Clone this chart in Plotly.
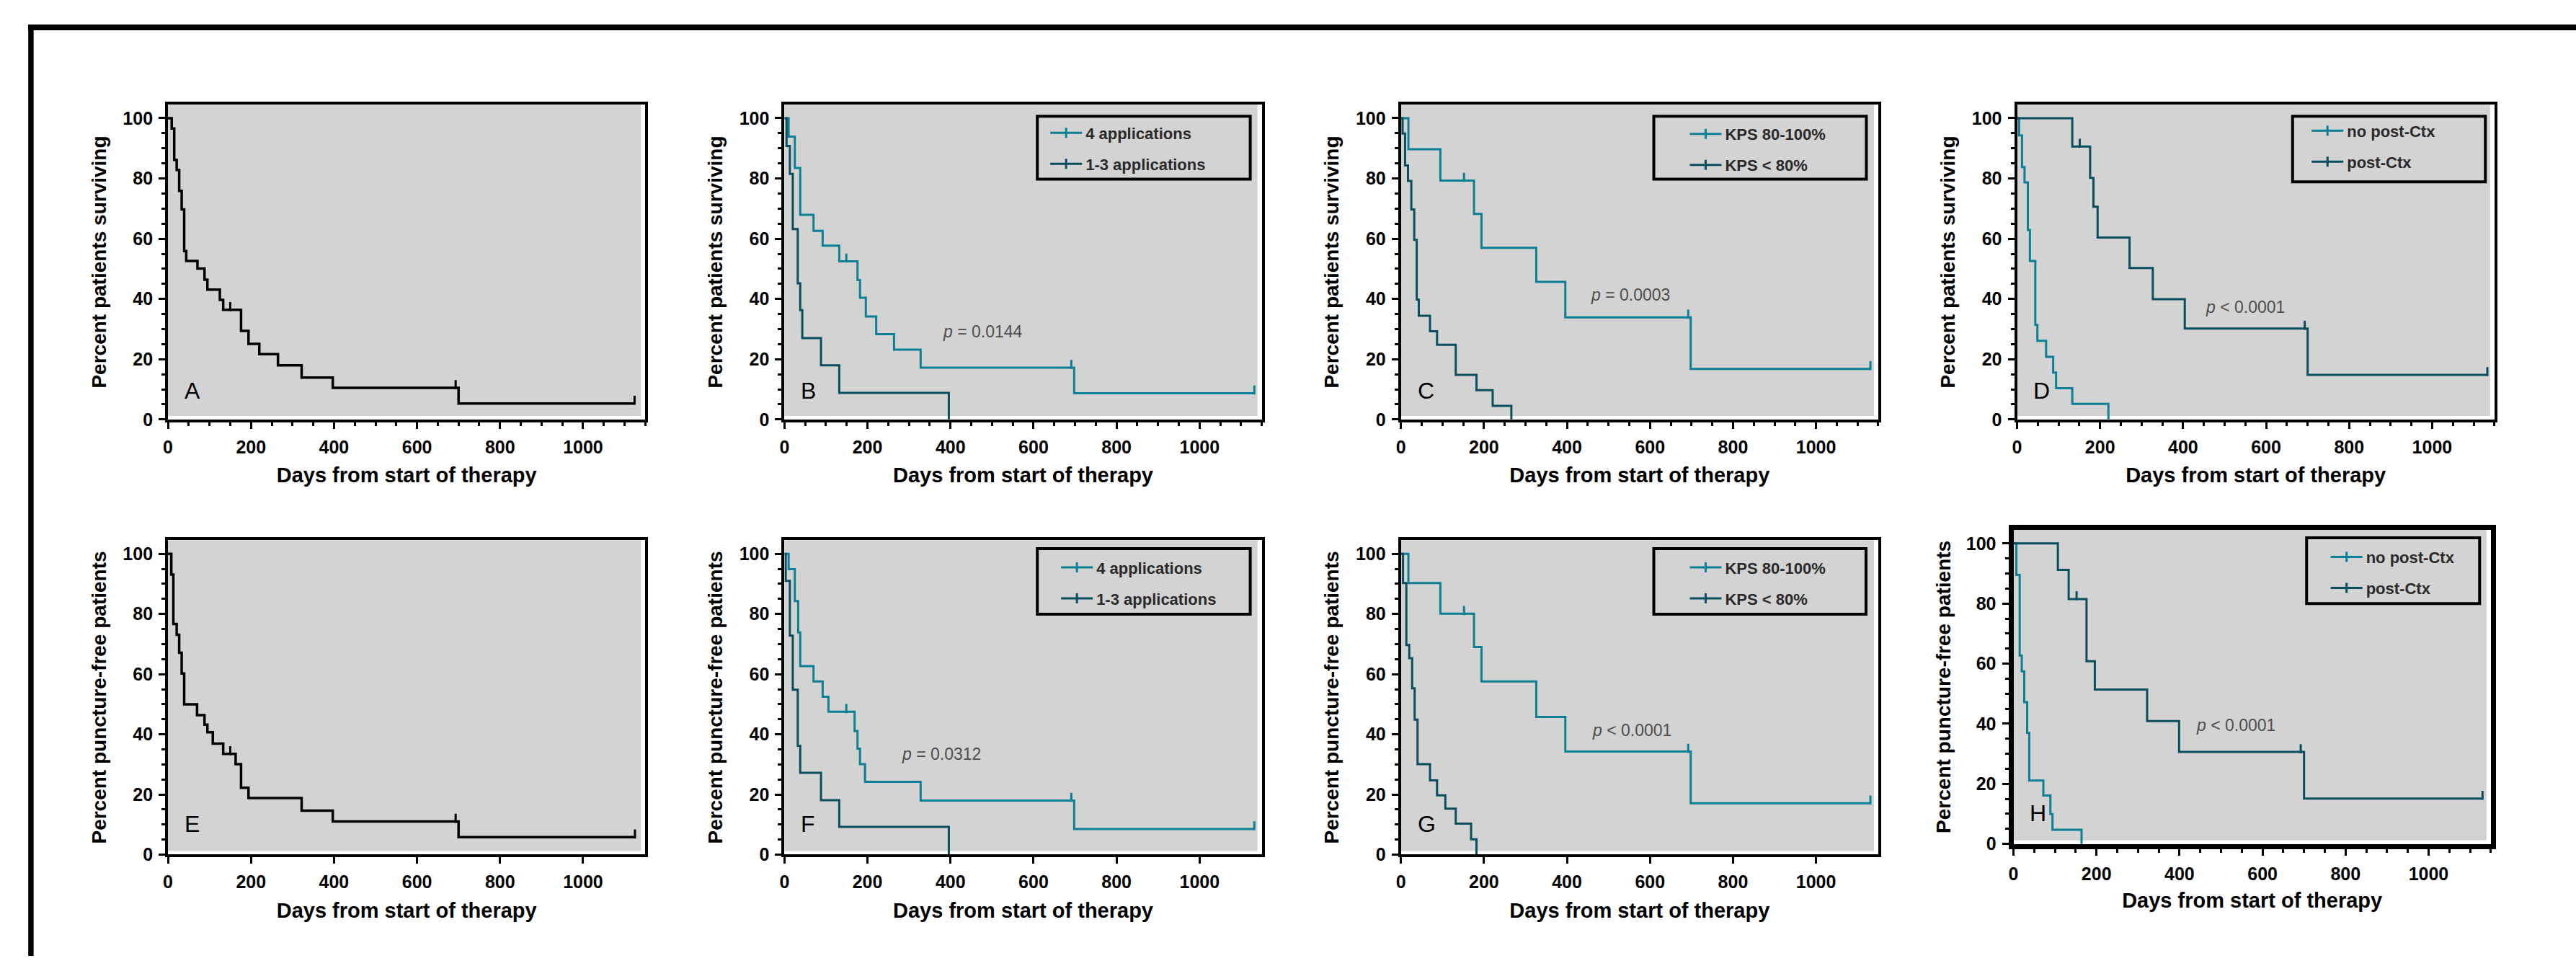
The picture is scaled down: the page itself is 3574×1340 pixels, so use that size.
import plotly.graph_objects as go

W, H = 3574, 1340
TEAL = "#0b7f93"
DARK = "#0a4e5d"
GRAY = "#d3d3d3"
FONT = "Liberation Sans, Arial, sans-serif"

# ---------------- data ----------------
X_TICKS = [0, 200, 400, 600, 800, 1000]
X_LABELS = ["0", "200", "400", "600", "800", "1000"]
Y_TICKS = [0, 20, 40, 60, 80, 100]
Y_LABELS = ["0", "20", "40", "60", "80", "100"]

# A: all patients, overall survival
A_days = [0, 9, 15, 21, 27, 33, 39, 44, 71, 88, 95, 125, 133, 176, 194, 220, 265, 322, 397, 700, 1124]
A_pct = [100, 96.6, 86.2, 82.8, 75.9, 69.7, 55.9, 52.6, 50.1, 46.4, 43.1, 39.7, 36.4, 29.4, 25.1, 21.7, 18.0, 13.9, 10.5, 5.3, 5.3]
A_cens_days = [150, 693, 1124]
A_cens_pct = [36.4, 10.5, 5.3]

# B: survival by number of applications
B4_days = [0, 10, 25, 38, 70, 92, 132, 176, 182, 196, 221, 264, 328, 698, 1132]
B4_pct = [100, 93.9, 83.5, 67.9, 62.6, 57.7, 52.5, 46.3, 40.4, 34.2, 28.3, 23.2, 17.2, 8.7, 8.7]
B4_cens_days = [149, 691, 1132]
B4_cens_pct = [52.5, 17.2, 8.7]
B13_days = [0, 5, 13, 20, 32, 38, 43, 88, 132, 396]
B13_pct = [100, 90.8, 81.5, 63.2, 45.2, 36.3, 27.0, 18.0, 8.8, 0]

# C: survival by KPS
C1_days = [0, 18, 95, 176, 194, 326, 396, 698, 1131]
C1_pct = [100, 89.7, 79.3, 68.2, 57.0, 45.7, 33.9, 16.8, 16.8]
C1_cens_days = [152, 692, 1131]
C1_cens_pct = [79.3, 33.9, 16.8]
C2_days = [0, 4, 10, 17, 25, 32, 38, 43, 70, 87, 132, 182, 221, 266]
C2_pct = [100, 94.9, 84.3, 79.2, 69.7, 59.6, 39.8, 34.4, 29.3, 24.8, 14.8, 9.7, 4.5, 0]

# D: survival by post-chemotherapy
D1_days = [0, 5, 12, 18, 26, 31, 44, 49, 70, 87, 94, 133, 220]
D1_pct = [100, 94.3, 83.8, 78.7, 62.9, 52.6, 31.4, 26.1, 20.8, 15.6, 10.4, 5.2, 0]
D2_days = [0, 133, 176, 184, 194, 271, 327, 404, 700, 1133]
D2_pct = [100, 90.6, 80.2, 70.6, 60.4, 50.3, 39.9, 30.2, 14.8, 14.8]
D2_cens_days = [151, 693, 1133]
D2_cens_pct = [90.6, 30.2, 14.8]

# E: all patients, puncture-free
E_days = [0, 8, 13, 21, 27, 33, 39, 70, 88, 95, 108, 133, 163, 176, 194, 322, 397, 700, 1125]
E_pct = [100, 93.1, 76.7, 73.1, 67.1, 60.2, 50.0, 46.4, 43.2, 40.7, 36.9, 33.5, 30.1, 22.2, 18.8, 14.6, 11.0, 5.8, 5.8]
E_cens_days = [150, 693, 1125]
E_cens_pct = [33.5, 11.0, 5.8]

# F: puncture-free by number of applications
F4_days = [0, 10, 25, 33, 38, 70, 92, 106, 169, 176, 182, 194, 328, 698, 1132]
F4_pct = [100, 94.9, 84.3, 73.9, 62.7, 57.6, 52.5, 47.5, 41.1, 35.2, 30.1, 24.2, 18.0, 8.5, 8.5]
F4_cens_days = [149, 691, 1132]
F4_cens_pct = [47.5, 18.0, 8.5]
F13_days = [0, 3, 13, 20, 32, 38, 88, 132, 396]
F13_pct = [100, 91.0, 72.8, 54.8, 36.2, 27.2, 18.1, 9.2, 0]

# G: puncture-free by KPS
G1_days = [0, 18, 95, 176, 194, 326, 396, 698, 1131]
G1_pct = [100, 90.3, 80.1, 69.0, 57.6, 45.8, 34.3, 17.1, 17.1]
G1_cens_days = [152, 692, 1131]
G1_cens_pct = [80.1, 34.3, 17.1]
G2_days = [0, 5, 13, 20, 27, 33, 40, 70, 87, 107, 132, 169, 182]
G2_pct = [100, 90.3, 69.7, 65.3, 55.3, 44.9, 30.1, 24.7, 19.7, 15.3, 10.3, 5.1, 0]

# H: puncture-free by post-chemotherapy
H1_days = [0, 7, 15, 20, 26, 33, 38, 72, 89, 94, 164]
H1_pct = [100, 89.5, 62.7, 57.4, 47.2, 37.0, 21.1, 16.1, 9.9, 4.7, 0]
H2_days = [0, 107, 133, 176, 196, 322, 399, 700, 1130]
H2_pct = [100, 91.2, 81.5, 60.8, 51.4, 40.9, 30.6, 15.1, 15.1]
H2_cens_days = [152, 692, 1130]
H2_cens_pct = [81.5, 30.6, 15.1]

LBL_APPL = ["4 applications", "1-3 applications"]
LBL_KPS = ["KPS 80-100%", "KPS < 80%"]
LBL_CTX = ["no post-Ctx", "post-Ctx"]
P_VALUES = {"B": "= 0.0144", "C": "= 0.0003", "D": "< 0.0001",
            "F": "= 0.0312", "G": "< 0.0001", "H": "< 0.0001"}
P_POS = {"B": (378, 29.1), "C": (453, 41.3), "D": (450, 37.2),
         "F": (279, 33.5), "G": (458, 41.4), "H": (437, 39.4)}
YTITLE_TOP = "Percent patients surviving"
YTITLE_BOT = "Percent puncture-free patients"
XTITLE = "Days from start of therapy"

# ---------------- layout geometry (pixels) ----------------
PW = 663.6
X_MAX = 1150
Y_MAX = 104.5

panels = [
    dict(L="A", left=226.5, bottom=588, top=146.7, yt=YTITLE_TOP, minor=True, fw=4,
         series=[(A_days, A_pct, A_cens_days, A_cens_pct, "black", None)], leg=None),
    dict(L="B", left=1083.5, bottom=588, top=146.7, yt=YTITLE_TOP, minor=True, fw=4,
         series=[(B4_days, B4_pct, B4_cens_days, B4_cens_pct, TEAL, LBL_APPL[0]),
                 (B13_days, B13_pct, None, None, DARK, LBL_APPL[1])],
         leg=dict(box=(1435, 1731, 163, 251), sample=1449, first=186)),
    dict(L="C", left=1940.5, bottom=588, top=146.7, yt=YTITLE_TOP, minor=True, fw=4,
         series=[(C1_days, C1_pct, C1_cens_days, C1_cens_pct, TEAL, LBL_KPS[0]),
                 (C2_days, C2_pct, None, None, DARK, LBL_KPS[1])],
         leg=dict(box=(2292, 2587.5, 163, 251), sample=2338, first=187.5)),
    dict(L="D", left=2797, bottom=588, top=146.7, yt=YTITLE_TOP, minor=True, fw=4,
         series=[(D1_days, D1_pct, None, None, TEAL, LBL_CTX[0]),
                 (D2_days, D2_pct, D2_cens_days, D2_cens_pct, DARK, LBL_CTX[1])],
         leg=dict(box=(3180, 3448, 163, 255), sample=3202.5, first=183)),
    dict(L="E", left=226.5, bottom=1198, top=757.4, yt=YTITLE_BOT, minor=False, fw=4,
         series=[(E_days, E_pct, E_cens_days, E_cens_pct, "black", None)], leg=None),
    dict(L="F", left=1083.5, bottom=1198, top=757.4, yt=YTITLE_BOT, minor=False, fw=4,
         series=[(F4_days, F4_pct, F4_cens_days, F4_cens_pct, TEAL, LBL_APPL[0]),
                 (F13_days, F13_pct, None, None, DARK, LBL_APPL[1])],
         leg=dict(box=(1435, 1731, 769, 861), sample=1464, first=795)),
    dict(L="G", left=1940.5, bottom=1198, top=757.4, yt=YTITLE_BOT, minor=False, fw=4,
         series=[(G1_days, G1_pct, G1_cens_days, G1_cens_pct, TEAL, LBL_KPS[0]),
                 (G2_days, G2_pct, None, None, DARK, LBL_KPS[1])],
         leg=dict(box=(2292, 2587, 769, 861), sample=2338, first=795)),
    dict(L="H", left=2792, bottom=1183, top=742.8, yt=YTITLE_BOT, minor=True, fw=7,
         series=[(H1_days, H1_pct, None, None, TEAL, LBL_CTX[0]),
                 (H2_days, H2_pct, H2_cens_days, H2_cens_pct, DARK, LBL_CTX[1])],
         leg=dict(box=(3199.5, 3440, 754, 846), sample=3229, first=780.5)),
]

LEG_FONT = 22
ITEM_H = LEG_FONT * 1.3 + 3
ITEM_STEP = 43
ITEM_W = 44

fig = go.Figure()
layout = dict(width=W, height=H, autosize=False,
              margin=dict(l=0, r=0, t=0, b=0, pad=0),
              paper_bgcolor="white", plot_bgcolor="white",
              font=dict(family=FONT, color="black"),
              showlegend=True)
shapes = []
annotations = []
legend_count = 0

for i, p in enumerate(panels, start=1):
    xs = "" if i == 1 else str(i)
    xref, yref = "x" + xs, "y" + xs
    plot_h = p["bottom"] - p["top"]
    tickfont = dict(family=FONT, size=25, color="black", weight="bold")
    xaxis = dict(
        domain=[p["left"] / W, (p["left"] + PW) / W], range=[0, X_MAX], anchor=yref,
        showgrid=False, zeroline=False, showline=True, linecolor="black",
        linewidth=p["fw"], mirror=True, ticks="outside", ticklen=9, tickwidth=3,
        tickcolor="black", tickmode="array", tickvals=X_TICKS, ticktext=X_LABELS,
        tickfont=tickfont, ticklabelstandoff=4,
        title=dict(text=XTITLE, font=dict(family=FONT, size=29, weight="bold"), standoff=17),
    )
    if p["minor"]:
        xaxis["minor"] = dict(dtick=50, tick0=0, ticks="outside", ticklen=5, tickwidth=3,
                              tickcolor="black", showgrid=False)
    yaxis = dict(
        domain=[1 - p["bottom"] / H, 1 - p["top"] / H], range=[0, Y_MAX], anchor=xref,
        showgrid=False, zeroline=False, showline=True, linecolor="black",
        linewidth=p["fw"], mirror=True, ticks="outside", ticklen=9, tickwidth=3,
        tickcolor="black", tickmode="array", tickvals=Y_TICKS, ticktext=Y_LABELS,
        tickfont=tickfont, ticklabelstandoff=3,
        minor=dict(dtick=5, tick0=0, ticks="outside", ticklen=5, tickwidth=3,
                   tickcolor="black", showgrid=False),
        title=dict(text=p["yt"], font=dict(family=FONT, size=28, weight="bold"), standoff=16),
    )
    layout["xaxis" + xs] = xaxis
    layout["yaxis" + xs] = yaxis

    # gray plotting area (slightly inset from right frame and x-axis like the original)
    shapes.append(dict(type="rect", xref=xref + " domain", yref=yref + " domain",
                       x0=0, x1=1 - 6 / PW, y0=5 / plot_h, y1=1,
                       fillcolor=GRAY, line=dict(width=0), layer="below"))

    legname = None
    if p["leg"] is not None:
        legend_count += 1
        legname = "legend" if legend_count == 1 else "legend%d" % legend_count
        lg = p["leg"]
        bx0, bx1, by0, by1 = lg["box"]
        shapes.append(dict(type="rect", xref="paper", yref="paper",
                           x0=bx0 / W, x1=bx1 / W, y0=1 - by1 / H, y1=1 - by0 / H,
                           line=dict(color="black", width=4), fillcolor="rgba(0,0,0,0)"))
        top_px = lg["first"] - 5 - ITEM_H / 2
        layout[legname] = dict(
            x=(lg["sample"] - 1) / W, y=1 - top_px / H, xanchor="left", yanchor="top",
            xref="paper", yref="paper", bgcolor="rgba(0,0,0,0)", borderwidth=0,
            font=dict(family=FONT, size=LEG_FONT, color="#2a2a2a", weight="bold"),
            itemwidth=ITEM_W, traceorder="grouped", tracegroupgap=ITEM_STEP - ITEM_H,
            itemclick=False, itemdoubleclick=False,
        )

    for k, (dx, dy, cx, cy, color, name) in enumerate(p["series"]):
        lw = 3.5 if color == "black" else 3
        fig.add_trace(go.Scatter(x=dx, y=dy, mode="lines", line=dict(color=color, width=lw, shape="hv"),
                                 xaxis=xref, yaxis=yref, showlegend=False, hoverinfo="skip"))
        if cx is not None:
            off = 4.5 / (plot_h / Y_MAX)
            fig.add_trace(go.Scatter(x=cx, y=[v + off for v in cy], mode="markers",
                                     marker=dict(symbol="line-ns", size=9, color=color,
                                                 line=dict(color=color, width=3)),
                                     xaxis=xref, yaxis=yref, showlegend=False, hoverinfo="skip"))
        if name is not None:
            fig.add_trace(go.Scatter(x=[None], y=[None], mode="lines+markers", name=name,
                                     line=dict(color=color, width=3),
                                     marker=dict(symbol="line-ns", size=10, color=color,
                                                 line=dict(color=color, width=3)),
                                     xaxis=xref, yaxis=yref, legend=legname,
                                     legendgroup="%s%d" % (p["L"], k), showlegend=True))

    # panel letter
    letter_y = 40 if p["bottom"] == 588 else 43
    annotations.append(dict(text=p["L"], xref=xref + " domain", yref=yref + " domain",
                            x=21 / PW, y=letter_y / plot_h, xanchor="left", yanchor="middle",
                            showarrow=False, font=dict(family=FONT, size=32, color="black")))
    # p value
    if p["L"] in P_VALUES:
        px_, py_ = P_POS[p["L"]]
        annotations.append(dict(text="<i>p</i> " + P_VALUES[p["L"]], xref=xref, yref=yref,
                                x=px_, y=py_, xanchor="left", yanchor="middle", showarrow=False,
                                font=dict(family=FONT, size=23, color="#4d4d4d")))

# outer figure frame (top and left edges)
shapes.append(dict(type="line", xref="paper", yref="paper", x0=36 / W, x1=36 / W,
                   y0=0, y1=1 - 34.5 / H, line=dict(color="black", width=7.5)))
shapes.append(dict(type="line", xref="paper", yref="paper", x0=32 / W, x1=1,
                   y0=1 - 38.3 / H, y1=1 - 38.3 / H, line=dict(color="black", width=8)))

layout["shapes"] = shapes
layout["annotations"] = annotations
fig.update_layout(**layout)

fig.write_html("out.html", config=dict(displayModeBar=False, staticPlot=True),
               post_script="document.body.style.margin='0';document.body.style.overflow='hidden';")
